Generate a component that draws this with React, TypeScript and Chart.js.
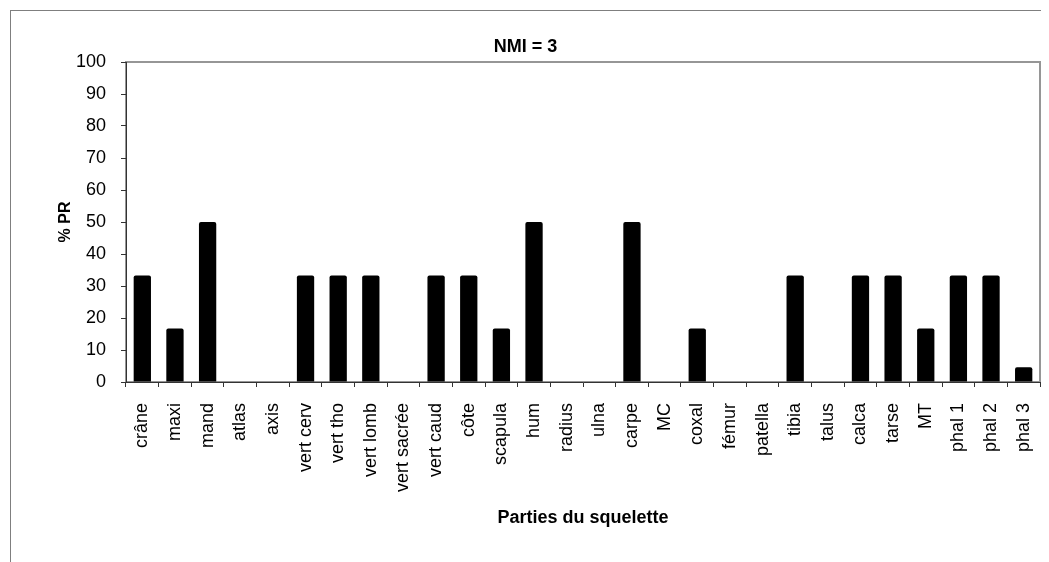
import React, { useEffect, useRef } from "react";
import { Chart, registerables } from "chart.js";

Chart.register(...registerables);

const categories: string[] = [
  "crâne", "maxi", "mand", "atlas", "axis", "vert cerv", "vert tho", "vert lomb",
  "vert sacrée", "vert caud", "côte", "scapula", "hum", "radius", "ulna", "carpe",
  "MC", "coxal", "fémur", "patella", "tibia", "talus", "calca", "tarse", "MT",
  "phal 1", "phal 2", "phal 3",
];

const prValues: number[] = [
  33.3, 16.7, 50, 0, 0, 33.3, 33.3, 33.3,
  0, 33.3, 33.3, 16.7, 50, 0, 0, 50,
  0, 16.7, 0, 0, 33.3, 0, 33.3, 33.3, 16.7,
  33.3, 33.3, 4.6,
];

const chartTitle = "NMI = 3";
const xTitle = "Parties du squelette";
const yTitle = "% PR";
const yMin = 0;
const yMax = 100;
const yStep = 10;

const FONT = "'Liberation Sans', Arial, sans-serif";

const plotFrame = {
  id: "plotFrame",
  beforeDraw(chart: any) {
    const { ctx, chartArea } = chart;
    ctx.save();
    ctx.strokeStyle = "#969696";
    ctx.lineWidth = 2;
    ctx.strokeRect(chartArea.left, chartArea.top, chartArea.right - chartArea.left, chartArea.bottom - chartArea.top);
    ctx.restore();
  },
};

export default function App() {
  const ref = useRef<HTMLCanvasElement | null>(null);

  useEffect(() => {
    if (!ref.current) return;
    const chart = new Chart(ref.current, {
      type: "bar",
      data: {
        labels: categories,
        datasets: [
          {
            data: prValues,
            backgroundColor: "#000000",
            borderWidth: 0,
            borderRadius: 2,
            categoryPercentage: 1,
            barPercentage: 0.53,
          },
        ],
      },
      plugins: [plotFrame],
      options: {
        animation: false,
        responsive: false,
        maintainAspectRatio: false,
        layout: { padding: { left: 0, right: 29, top: 0, bottom: 0 } },
        plugins: {
          legend: { display: false },
          tooltip: { enabled: false },
          title: {
            display: true,
            text: chartTitle,
            color: "#000",
            font: { family: FONT, size: 18, weight: "bold" },
            padding: { top: 25, bottom: 4.4 },
          },
        },
        scales: {
          x: {
            grid: {
              display: true,
              drawOnChartArea: false,
              drawTicks: true,
              tickLength: 5,
              color: "#333",
              offset: true,
            },
            border: { display: true, color: "#333", width: 1 },
            ticks: {
              color: "#000",
              font: { family: FONT, size: 18 },
              maxRotation: 90,
              minRotation: 90,
              autoSkip: false,
              padding: 16,
            },
            title: {
              display: true,
              text: xTitle,
              color: "#000",
              font: { family: FONT, size: 18, weight: "bold" },
              padding: { top: 0, bottom: 42 },
            },
            afterFit(scale: any) {
              scale.height = 189;
            },
          },
          y: {
            min: yMin,
            max: yMax,
            grid: {
              display: true,
              drawOnChartArea: false,
              drawTicks: true,
              tickLength: 5,
              color: "#333",
            },
            border: { display: true, color: "#333", width: 1 },
            ticks: {
              stepSize: yStep,
              color: "#000",
              font: { family: FONT, size: 18 },
              padding: 15,
            },
            title: {
              display: true,
              text: yTitle,
              color: "#000",
              font: { family: FONT, size: 16, weight: "bold" },
              padding: { top: 45, bottom: 0 },
            },
            afterFit(scale: any) {
              scale.width = 115;
            },
          },
        },
      },
    });
    return () => chart.destroy();
  }, []);

  return (
    <div style={{ position: "relative", width: 1041, height: 554, overflow: "hidden", background: "#fff" }}>
      <div
        style={{
          position: "absolute",
          left: 2,
          top: 2,
          width: 1058,
          height: 600,
          border: "1px solid #7f7f7f",
          background: "#fff",
        }}
      >
        <canvas ref={ref} width={1058} height={560} style={{ display: "block", width: 1058, height: 560 }} />
      </div>
    </div>
  );
}
